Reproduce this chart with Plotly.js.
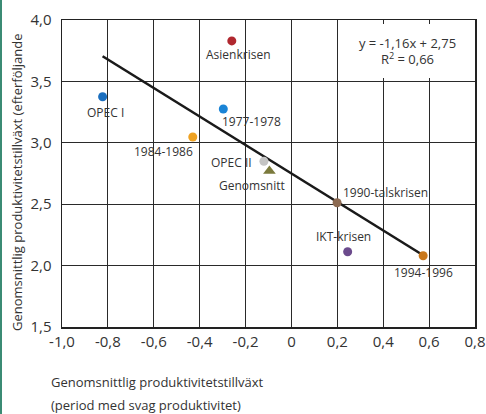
<!DOCTYPE html>
<html>
<head>
<meta charset="utf-8">
<script src="https://cdn.plot.ly/plotly-3.0.1.min.js"></script>
<style>
  html, body { margin: 0; padding: 0; background: #fff; }
  #wrap { position: relative; width: 486px; height: 414px; overflow: hidden; }
  #chart { position: absolute; left: 0; top: 0; width: 486px; height: 414px; }
  #edge { position: absolute; left: 0; top: 0; width: 2px; height: 414px; background: #3b8b74; z-index: 10; }
</style>
</head>
<body>
<div id="wrap"><div id="chart"></div><div id="edge"></div></div>
<script>
// ---- data ----
const periods = ['OPEC I', '1977-1978', '1984-1986', 'Asienkrisen', 'OPEC II', 'Genomsnitt', '1990-talskrisen', 'IKT-krisen', '1994-1996'];
const weakGrowth = [-0.823, -0.297, -0.43, -0.26, -0.12, -0.096, 0.199, 0.245, 0.574];
const followingGrowth = [3.375, 3.275, 3.047, 3.83, 2.85, 2.77, 2.512, 2.113, 2.08];
const trendSlope = -1.16;
const trendIntercept = 2.75;
const rSquared = 0.66;
const xTickValues = [-1.0, -0.8, -0.6, -0.4, -0.2, 0, 0.2, 0.4, 0.6, 0.8];
const xTickLabels = ['-1,0', '-0,8', '-0,6', '-0,4', '-0,2', '0', '0,2', '0,4', '0,6', '0,8'];
const yTickValues = [1.5, 2.0, 2.5, 3.0, 3.5, 4.0];
const yTickLabels = ['1,5', '2,0', '2,5', '3,0', '3,5', '4,0'];
const yTitle = 'Genomsnittlig produktivitetstillväxt (efterföljande';
const xTitleLines = ['Genomsnittlig produktivitetstillväxt', '(period med svag produktivitet)'];

// ---- styles ----
const pointColors = ['#1b6fbf', '#1a84d6', '#eea223', '#b0282f', '#c4c4c4', '#7b7a3c', '#8c6a52', '#6b4a8c', '#c9781c'];
const pointSymbols = ['circle', 'circle', 'circle', 'circle', 'circle', 'triangle-up', 'circle', 'circle', 'circle'];
const pointSizes = [9, 9, 9, 9, 9, 11, 9, 9, 9];
// label offsets in px (dx right, dy down)
const labelOffsets = [[3, 16], [28, 12], [-29, 14], [7, 14], [-32, 1], [-17, 14], [48, -10], [-4, -15], [0, 17]];

const FONT = '"Open Sans", sans-serif';
const TXT = '#333333';

const xMin = Math.min(...weakGrowth);
const xMax = Math.max(...weakGrowth);
const fmt = v => v.toFixed(2).replace('.', ',');

const trend = {
  x: [xMin, xMax],
  y: [trendSlope * xMin + trendIntercept, trendSlope * xMax + trendIntercept],
  mode: 'lines',
  line: { color: '#1a1a1a', width: 2.6 },
  hoverinfo: 'skip',
  showlegend: false
};

// one trace per period (single colour and symbol each)
const pointTraces = periods.map((p, i) => ({
  x: [weakGrowth[i]],
  y: [followingGrowth[i]],
  name: p,
  mode: 'markers',
  marker: { color: pointColors[i], symbol: pointSymbols[i], size: pointSizes[i] },
  showlegend: false
}));

const annotations = [];

periods.forEach((p, i) => annotations.push({
  x: weakGrowth[i], y: followingGrowth[i], xref: 'x', yref: 'y',
  text: p, showarrow: false,
  xshift: labelOffsets[i][0], yshift: -labelOffsets[i][1],
  xanchor: 'center', yanchor: 'middle',
  font: { family: FONT, size: 12, color: TXT }
}));

// equation on a white panel that hides the grid behind it
annotations.push({
  xref: 'paper', yref: 'paper', x: (345 - 62) / 413, y: (327 - 23.5) / 307,
  xanchor: 'left', yanchor: 'top', align: 'center', valign: 'middle',
  width: 125, height: 54, bgcolor: '#ffffff', borderpad: 0, borderwidth: 0,
  text: 'y = ' + fmt(trendSlope) + 'x + ' + fmt(trendIntercept) + '<br>R<sup>2</sup> = ' + fmt(rSquared),
  showarrow: false,
  font: { family: FONT, size: 13, color: TXT }
});

// axis titles as annotations
annotations.push({
  xref: 'paper', yref: 'paper', x: (17 - 62) / 413, y: (327 - 333) / 307,
  text: yTitle,
  textangle: -90, showarrow: false, xanchor: 'center', yanchor: 'bottom',
  font: { family: FONT, size: 13, color: TXT }
});
annotations.push({
  xref: 'paper', yref: 'paper', x: 0, xshift: -13, y: (327 - 382) / 307,
  text: xTitleLines[0], align: 'left',
  showarrow: false, xanchor: 'left', yanchor: 'middle',
  font: { family: FONT, size: 13, color: TXT }
});
annotations.push({
  xref: 'paper', yref: 'paper', x: 0, xshift: -13, y: (327 - 405) / 307,
  text: xTitleLines[1], align: 'left',
  showarrow: false, xanchor: 'left', yanchor: 'middle',
  font: { family: FONT, size: 13, color: TXT }
});

const layout = {
  width: 486, height: 414,
  margin: { l: 62, r: 11, t: 20, b: 87 },
  paper_bgcolor: '#ffffff', plot_bgcolor: '#ffffff',
  separators: ', ',
  showlegend: false,
  font: { family: FONT, size: 15, color: TXT },
  xaxis: {
    range: [-1.0, 0.8], tickvals: xTickValues, ticktext: xTickLabels,
    showgrid: true, gridcolor: '#2a2a2a', gridwidth: 1,
    zeroline: false, showline: true, linecolor: '#222', linewidth: 1.5, mirror: true,
    ticks: '', tickfont: { family: FONT, size: 15, color: TXT }, fixedrange: true
  },
  yaxis: {
    range: [1.5, 4.0], tickvals: yTickValues, ticktext: yTickLabels,
    showgrid: true, gridcolor: '#2a2a2a', gridwidth: 1,
    zeroline: false, showline: true, linecolor: '#222', linewidth: 1.5, mirror: true,
    ticks: '', ticklabelstandoff: 6, tickfont: { family: FONT, size: 15, color: TXT }, fixedrange: true
  },
  annotations: annotations
};

Plotly.newPlot('chart', [trend].concat(pointTraces), layout, { displayModeBar: false, staticPlot: true });
</script>
</body>
</html>
